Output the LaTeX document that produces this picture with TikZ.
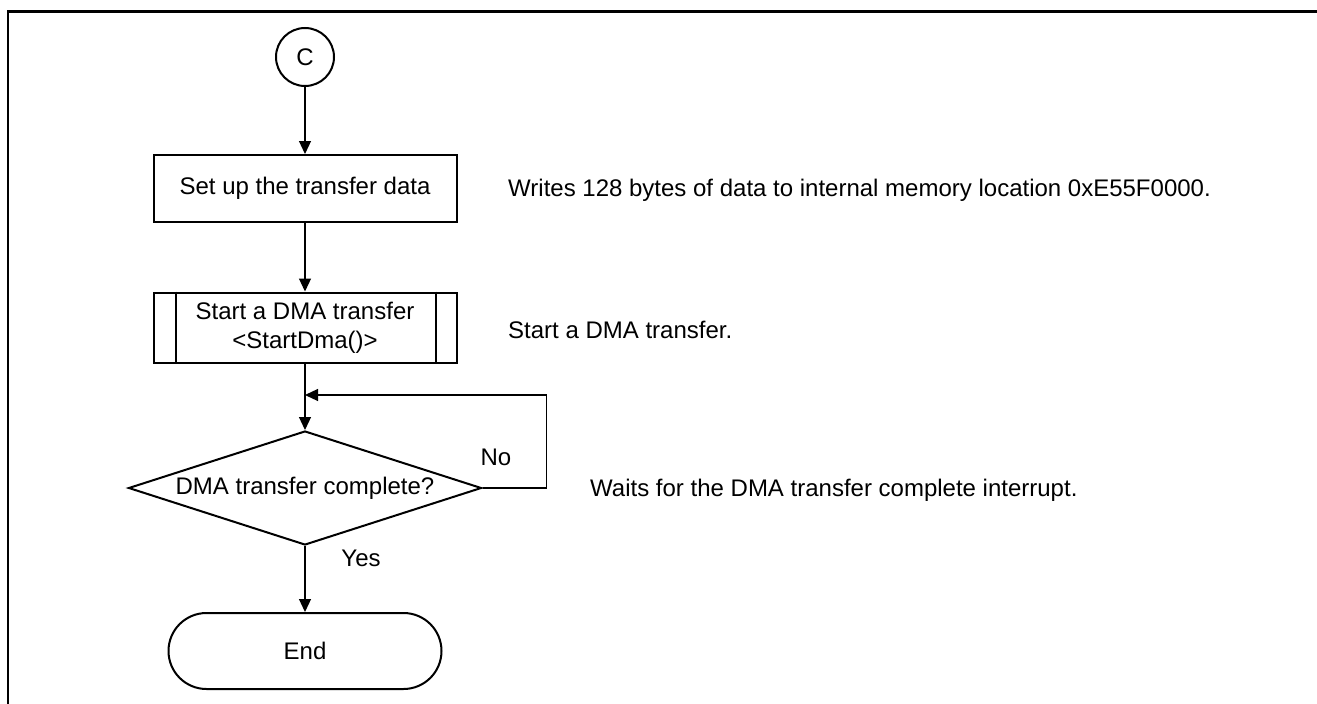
\documentclass[tikz,border=0pt]{standalone}
\usepackage{fontspec}
\setmainfont{Liberation Sans}
\usetikzlibrary{arrows.meta,shapes.geometric}
\begin{document}
\begin{tikzpicture}[x=1pt,y=-1pt,
  every node/.style={font=\fontsize{24}{29}\selectfont},
  stepbox/.style={draw, line width=2pt, minimum width=303pt, inner sep=0pt, align=center},
  connector/.style={draw, line width=2pt, circle, minimum size=58pt, inner sep=0pt},
  decision/.style={draw, line width=2pt, diamond, aspect=3.1, minimum width=353pt, minimum height=114pt, inner sep=0pt},
  terminal/.style={draw, line width=2pt, rectangle, rounded corners=38pt, minimum width=273pt, minimum height=76pt, inner sep=0pt},
  note/.style={anchor=base west, inner sep=0pt},
  flow/.style={line width=1.2pt, -{Triangle[length=13pt,width=12pt]}}
]
\useasboundingbox (0,0) rectangle (1317,704);

% frame
\draw[line width=2.6pt] (8,704) -- (8,11.5) -- (1317,11.5);

% flow nodes
\node[connector] (c) at (305,57) {C};
\node[stepbox, minimum height=67pt] (setup) at (305,188.5) {Set up the transfer data};
\node[stepbox, minimum height=70pt] (dma) at (305,327.5) {Start a DMA transfer\\<StartDma()>};
\draw[line width=2pt] ([xshift=23pt]dma.north west) -- ([xshift=23pt]dma.south west);
\draw[line width=2pt] ([xshift=-22pt]dma.north east) -- ([xshift=-22pt]dma.south east);
\node[decision] (done) at (305,488) {DMA transfer complete?};
\node[terminal] (end) at (305,651) {End};

% connectors
\coordinate (loop) at (305,395);
\draw[flow] (c) -- (setup);
\draw[flow] (setup) -- (dma);
\draw[flow] (dma) -- (done);
\draw[flow] (done) -- (end);
\draw[flow] (done.east) -- ++(64,0) |- (loop);

% branch labels
\node (no) at (496,457) {No};
\node (yes) at (361,558) {Yes};

% annotations
\node[note] (n1) at (508,196) {Writes 128 bytes of data to internal memory location 0xE55F0000.};
\node[note] (n2) at (508,338) {Start a DMA transfer.};
\node[note] (n3) at (590,496) {Waits for the DMA transfer complete interrupt.};
\end{tikzpicture}
\end{document}
